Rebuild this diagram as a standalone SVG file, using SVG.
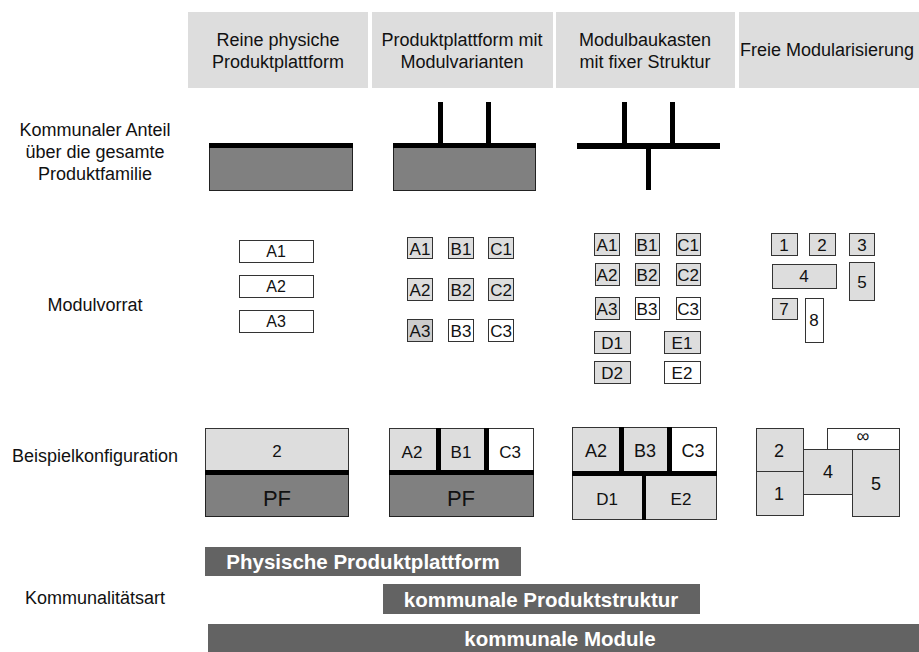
<svg xmlns="http://www.w3.org/2000/svg" width="919" height="652" viewBox="0 0 919 652">
  <style>
    text { font-family: "Liberation Sans", Arial, sans-serif; fill: #111; text-anchor: middle; }
    .lbl { font-size: 18px; }
    .hdr { fill: #dddddd; }
    .mod { fill: #dddddd; stroke: #333; stroke-width: 1; }
    .modw { fill: #ffffff; stroke: #333; stroke-width: 1; }
    .pf { fill: #808080; stroke: #222; stroke-width: 1; }
    .blk { fill: #000; }
    .t16 { font-size: 16px; }
    .t17 { font-size: 17px; }
    .t18 { font-size: 18px; }
    .t22 { font-size: 22px; }
    .bar { fill: #636363; }
    .bt { font-size: 20.5px; font-weight: bold; fill: #fff; }
  </style>

  <rect width="919" height="652" fill="#fff"/>

  <!-- column headers -->
  <g id="header-reine">
    <rect class="hdr" x="188" y="12" width="180" height="76"/>
    <text class="lbl" x="278" y="46">Reine physiche</text>
    <text class="lbl" x="278" y="68">Produktplattform</text>
  </g>
  <g id="header-varianten">
    <rect class="hdr" x="372" y="12" width="181" height="76"/>
    <text class="lbl" x="462" y="46">Produktplattform mit</text>
    <text class="lbl" x="462" y="68">Modulvarianten</text>
  </g>
  <g id="header-baukasten">
    <rect class="hdr" x="556" y="12" width="179" height="76"/>
    <text class="lbl" x="645" y="46">Modulbaukasten</text>
    <text class="lbl" x="645" y="68">mit fixer Struktur</text>
  </g>
  <g id="header-frei">
    <rect class="hdr" x="739" y="12" width="180" height="76"/>
    <text class="lbl" x="827" y="56">Freie Modularisierung</text>
  </g>

  <!-- row labels -->
  <g id="row-labels">
    <text class="lbl" x="95" y="136">Kommunaler Anteil</text>
    <text class="lbl" x="95" y="158">über die gesamte</text>
    <text class="lbl" x="95" y="180">Produktfamilie</text>
    <text class="lbl" x="95" y="311">Modulvorrat</text>
    <text class="lbl" x="95" y="462">Beispielkonfiguration</text>
    <text class="lbl" x="95" y="604">Kommunalitätsart</text>
  </g>

  <!-- common share -->
  <g id="anteil-reine">
    <rect class="pf" x="209.5" y="147.5" width="143" height="43"/>
    <rect class="blk" x="209" y="143" width="144" height="5"/>
  </g>
  <g id="anteil-varianten">
    <rect class="pf" x="393.5" y="147.5" width="142" height="43"/>
    <rect class="blk" x="393" y="143" width="143" height="5"/>
    <rect class="blk" x="438" y="102" width="5" height="42"/>
    <rect class="blk" x="486" y="102" width="5" height="42"/>
  </g>
  <g id="anteil-baukasten">
    <rect class="blk" x="577" y="143" width="143" height="6"/>
    <rect class="blk" x="622" y="102" width="5" height="42"/>
    <rect class="blk" x="670" y="102" width="5" height="42"/>
    <rect class="blk" x="646" y="148" width="5" height="42"/>
  </g>

  <!-- module stock -->
  <g id="vorrat-reine" class="t16">
    <rect class="modw" x="239.5" y="240.5" width="74" height="22"/>
    <text x="276" y="257">A1</text>
    <rect class="modw" x="239.5" y="275.5" width="74" height="22"/>
    <text x="276" y="292">A2</text>
    <rect class="modw" x="239.5" y="310.5" width="74" height="22"/>
    <text x="276" y="327">A3</text>
  </g>
  <g id="vorrat-varianten" class="t17">
    <rect class="mod" x="407.5" y="237.5" width="25" height="21"/>
    <text x="420" y="255">A1</text>
    <rect class="mod" x="448.5" y="237.5" width="25" height="21"/>
    <text x="461" y="255">B1</text>
    <rect class="mod" x="488.5" y="237.5" width="25" height="21"/>
    <text x="501" y="255">C1</text>
    <rect class="mod" x="407.5" y="278.5" width="25" height="22"/>
    <text x="420" y="296">A2</text>
    <rect class="mod" x="448.5" y="278.5" width="25" height="22"/>
    <text x="461" y="296">B2</text>
    <rect class="mod" x="488.5" y="278.5" width="25" height="22"/>
    <text x="501" y="296">C2</text>
    <rect class="mod" x="407.5" y="319.5" width="25" height="22" style="fill:#cccccc"/>
    <text x="420" y="337">A3</text>
    <rect class="modw" x="448.5" y="319.5" width="25" height="22"/>
    <text x="461" y="337">B3</text>
    <rect class="modw" x="488.5" y="319.5" width="25" height="22"/>
    <text x="501" y="337">C3</text>
  </g>
  <g id="vorrat-baukasten" class="t17">
    <rect class="mod" x="594.5" y="233.5" width="25" height="22"/>
    <text x="607" y="251">A1</text>
    <rect class="mod" x="635.5" y="233.5" width="24" height="22"/>
    <text x="647" y="251">B1</text>
    <rect class="mod" x="676.5" y="233.5" width="24" height="22"/>
    <text x="688" y="251">C1</text>
    <rect class="mod" x="595.5" y="263.5" width="24" height="22"/>
    <text x="607" y="281">A2</text>
    <rect class="mod" x="635.5" y="263.5" width="24" height="22"/>
    <text x="647" y="281">B2</text>
    <rect class="mod" x="676.5" y="263.5" width="24" height="22"/>
    <text x="688" y="281">C2</text>
    <rect class="mod" x="595.5" y="297.5" width="24" height="22"/>
    <text x="607" y="315">A3</text>
    <rect class="modw" x="635.5" y="297.5" width="24" height="22"/>
    <text x="647" y="315">B3</text>
    <rect class="modw" x="676.5" y="297.5" width="24" height="22"/>
    <text x="688" y="315">C3</text>
    <rect class="mod" x="594.5" y="331.5" width="36" height="22"/>
    <text x="612" y="349">D1</text>
    <rect class="mod" x="664.5" y="331.5" width="36" height="22"/>
    <text x="682" y="349">E1</text>
    <rect class="mod" x="594.5" y="361.5" width="36" height="22"/>
    <text x="612" y="379">D2</text>
    <rect class="modw" x="664.5" y="361.5" width="36" height="22"/>
    <text x="682" y="379">E2</text>
  </g>
  <g id="vorrat-frei" class="t17">
    <rect class="mod" x="771.5" y="233.5" width="26" height="22"/>
    <text x="784" y="251">1</text>
    <rect class="mod" x="809.5" y="233.5" width="26" height="22"/>
    <text x="822" y="251">2</text>
    <rect class="mod" x="849.5" y="233.5" width="25" height="22"/>
    <text x="862" y="251">3</text>
    <rect class="mod" x="772.5" y="264.5" width="64" height="24"/>
    <text x="804" y="282">4</text>
    <rect class="mod" x="849.5" y="262.5" width="25" height="38"/>
    <text x="862" y="288">5</text>
    <rect class="mod" x="772.5" y="298.5" width="25" height="21"/>
    <text x="784" y="315">7</text>
    <rect class="modw" x="805.5" y="298.5" width="18" height="44"/>
    <text x="814" y="326">8</text>
  </g>

  <!-- example configurations -->
  <g id="konfig-reine">
    <rect class="mod" x="205.5" y="428.5" width="143" height="43"/>
    <rect class="pf" x="205.5" y="473.5" width="143" height="43"/>
    <rect class="blk" x="205" y="470" width="144" height="5"/>
    <text class="t17" x="277" y="457">2</text>
    <text class="t22" x="277" y="506">PF</text>
  </g>
  <g id="konfig-varianten">
    <rect class="mod" x="389.5" y="428.5" width="48" height="43"/>
    <rect class="mod" x="439.5" y="428.5" width="46" height="43"/>
    <rect class="modw" x="486.5" y="428.5" width="47" height="43"/>
    <rect class="pf" x="389.5" y="473.5" width="144" height="43"/>
    <rect class="blk" x="389" y="470" width="145" height="5"/>
    <rect class="blk" x="436" y="428" width="5" height="44"/>
    <rect class="blk" x="484" y="428" width="5" height="44"/>
    <text class="t17" x="412" y="458">A2</text>
    <text class="t17" x="461" y="458">B1</text>
    <text class="t17" x="510" y="458">C3</text>
    <text class="t22" x="461" y="506">PF</text>
  </g>
  <g id="konfig-baukasten">
    <rect class="mod" x="572.5" y="427.5" width="50" height="45"/>
    <rect class="mod" x="622.5" y="427.5" width="48" height="45"/>
    <rect class="modw" x="669.5" y="427.5" width="47" height="45"/>
    <rect class="mod" x="572.5" y="474.5" width="73" height="45"/>
    <rect class="mod" x="645.5" y="474.5" width="71" height="45"/>
    <rect class="blk" x="572" y="471" width="145" height="5"/>
    <rect class="blk" x="619" y="427" width="5" height="45"/>
    <rect class="blk" x="667" y="427" width="5" height="45"/>
    <rect class="blk" x="642" y="475" width="4" height="45"/>
    <text class="t18" x="596" y="457">A2</text>
    <text class="t18" x="645" y="457">B3</text>
    <text class="t18" x="693" y="457">C3</text>
    <text class="t17" x="607" y="505">D1</text>
    <text class="t17" x="681" y="505">E2</text>
  </g>
  <g id="konfig-frei">
    <rect class="modw" x="827.5" y="428.5" width="72" height="21"/>
    <rect class="mod" x="756.5" y="428.5" width="47" height="43"/>
    <rect class="mod" x="756.5" y="471.5" width="47" height="44"/>
    <rect class="mod" x="803.5" y="449.5" width="49" height="45"/>
    <rect class="mod" x="852.5" y="449.5" width="47" height="67"/>
    <text class="t18" x="863" y="442">∞</text>
    <text class="t18" x="779" y="457">2</text>
    <text class="t18" x="779" y="500">1</text>
    <text class="t18" x="828" y="478">4</text>
    <text class="t18" x="876" y="490">5</text>
  </g>

  <!-- commonality bars -->
  <g id="bar-plattform">
    <rect class="bar" x="205" y="547" width="316" height="29"/>
    <text class="bt" x="363" y="569">Physische Produktplattform</text>
  </g>
  <g id="bar-struktur">
    <rect class="bar" x="383" y="584" width="317" height="30"/>
    <text class="bt" x="541" y="607">kommunale Produktstruktur</text>
  </g>
  <g id="bar-module">
    <rect class="bar" x="208" y="624" width="711" height="28"/>
    <text class="bt" x="560" y="646">kommunale Module</text>
  </g>
</svg>
